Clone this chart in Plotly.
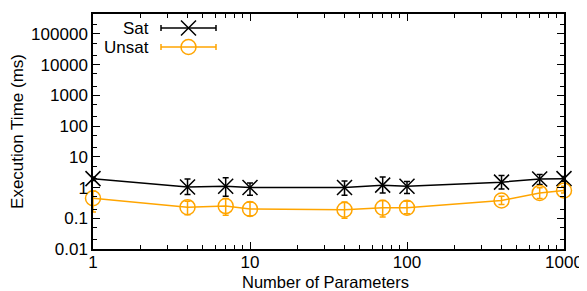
import plotly.graph_objects as go
import numpy as np

# ---- data ----
params = [1, 4, 7, 10, 40, 70, 100, 400, 700, 1000]
sat_mean = [1.95, 1.05, 1.1, 1.0, 1.0, 1.2, 1.1, 1.5, 1.9, 1.95]
sat_hi = [2.2, 1.9, 2.07, 1.42, 1.65, 2.2, 1.57, 2.46, 2.65, 2.3]
sat_lo = [1.7, 0.6, 0.52, 0.56, 0.56, 0.67, 0.64, 0.9, 1.25, 1.6]
unsat_mean = [0.45, 0.23, 0.25, 0.2, 0.19, 0.22, 0.22, 0.38, 0.67, 0.8]
unsat_hi = [0.76, 0.36, 0.44, 0.33, 0.34, 0.38, 0.36, 0.52, 0.98, 1.1]
unsat_lo = [0.16, 0.13, 0.125, 0.12, 0.1, 0.11, 0.14, 0.28, 0.44, 0.67]
x_ticks = [1, 10, 100, 1000]
y_ticks = [0.01, 0.1, 1, 10, 100, 1000, 10000, 100000]
series_names = ["Sat", "Unsat"]
colors = ["#000000", "#FFA500"]

FONT = "Liberation Sans, Arial, Helvetica, sans-serif"
FS = 17

fig = go.Figure()

def add_series(mean, hi, lo, name, color, symbol):
    fig.add_trace(go.Scatter(
        x=params, y=mean, mode="lines+markers", name=name, showlegend=False,
        cliponaxis=False,
        line=dict(color=color, width=1.5),
        marker=dict(symbol=symbol, size=15, color=color,
                    line=dict(color=color, width=1.5)),
        error_y=dict(type="data", symmetric=False,
                     array=[h - m for h, m in zip(hi, mean)],
                     arrayminus=[m - l for m, l in zip(mean, lo)],
                     color=color, thickness=1.5, width=3),
    ))

add_series(sat_mean, sat_hi, sat_lo, series_names[0], colors[0], "x-thin-open")
add_series(unsat_mean, unsat_hi, unsat_lo, series_names[1], colors[1], "circle-open")

# ---- custom gnuplot-style legend on an overlay axis in plot-pixel units ----
PW, PH = 471, 235
leg_rows = [221, 202]
symbols = ["x-thin-open", "circle-open"]
for name, color, sym, yy in zip(series_names, colors, symbols, leg_rows):
    fig.add_shape(type="line", xref="x2", yref="y2", x0=68, x1=123, y0=yy, y1=yy,
                  line=dict(color=color, width=1.5))
    for xc in (68, 123):
        fig.add_shape(type="line", xref="x2", yref="y2", x0=xc, x1=xc,
                      y0=yy - 3, y1=yy + 3, line=dict(color=color, width=1.5))
    fig.add_trace(go.Scatter(x=[95.5], y=[yy], xaxis="x2", yaxis="y2", mode="markers",
                             showlegend=False, hoverinfo="skip",
                             marker=dict(symbol=sym, size=15, color=color,
                                         line=dict(color=color, width=1.5))))
    fig.add_annotation(x=58, y=yy, xref="x2", yref="y2", text=name, showarrow=False,
                       xanchor="right", yanchor="middle",
                       font=dict(family=FONT, size=FS, color="black"))

# x axis title as annotation for precise placement
fig.add_annotation(x=0.494, y=0, xref="paper", yref="paper", yshift=-33,
                   text="Number of Parameters", showarrow=False,
                   xanchor="center", yanchor="middle",
                   font=dict(family=FONT, size=16.5, color="black"))

axis_common = dict(
    type="log", showgrid=False, zeroline=False, automargin=False,
    showline=True, linecolor="black", linewidth=1.5, mirror="allticks",
    ticks="inside", ticklen=7, tickwidth=1, tickcolor="black",
    tickfont=dict(family=FONT, size=FS, color="black"),
)

# page body has an 8px margin, so the figure is shifted by (8, 8)
fig.update_layout(
    width=579, height=283,
    margin=dict(l=85, r=23, t=6, b=42),
    paper_bgcolor="white", plot_bgcolor="white",
    font=dict(family=FONT, size=FS, color="black"),
    xaxis=dict(**axis_common, range=[0, 3], ticklabelstandoff=-3,
               tickvals=x_ticks, ticktext=[str(v) for v in x_ticks],
               minor=dict(ticks="inside", ticklen=4, tickcolor="black",
                          tickvals=[m * 10 ** d for d in range(3) for m in range(2, 10)])),
    yaxis=dict(**axis_common, range=[-2, 5.65],
               tickvals=y_ticks, ticktext=[f"{v:g}" if v < 1 else str(int(v)) for v in y_ticks],
               minor=dict(ticks="inside", ticklen=4, tickcolor="black",
                          tickvals=[m * 10.0 ** d for d in range(-2, 6) for m in (2, 5)]),
               title=dict(text="Execution Time (ms)", standoff=6,
                          font=dict(family=FONT, size=FS))),
    xaxis2=dict(overlaying="x", range=[0, PW], visible=False, fixedrange=True),
    yaxis2=dict(overlaying="y", range=[0, PH], visible=False, fixedrange=True),
    showlegend=False,
)

fig.write_html("out.html")
